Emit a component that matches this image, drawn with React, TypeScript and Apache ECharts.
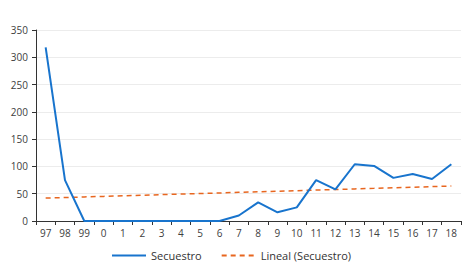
import React, { useEffect, useRef } from "react";
import * as echarts from "echarts";

const categories = ["97", "98", "99", "0", "1", "2", "3", "4", "5", "6", "7", "8", "9", "10", "11", "12", "13", "14", "15", "16", "17", "18"];
const secuestro = [318, 75, 0, 0, 0, 0, 0, 0, 0, 0, 10, 34, 16, 25, 75, 58, 104, 101, 79, 86, 77, 104];
const lineal = [42.0, 43.0, 44.1, 45.1, 46.2, 47.2, 48.3, 49.3, 50.4, 51.4, 52.5, 53.5, 54.6, 55.6, 56.7, 57.7, 58.8, 59.8, 60.9, 61.9, 63.0, 64.0];

export default function App() {
  const ref = useRef<HTMLDivElement>(null);
  useEffect(() => {
    const chart = echarts.init(ref.current!, undefined, { renderer: "svg" });
    const font = "Open Sans";
    chart.setOption({
      animation: false,
      grid: { left: 36, right: 12, top: 30, bottom: 54 },
      legend: {
        bottom: 9,
        left: 106,
        itemWidth: 34,
        itemHeight: 10,
        itemGap: 19,
        itemStyle: { opacity: 0 },
        textStyle: { fontFamily: font, fontSize: 11, color: "#333" },
        data: [
          { name: "Secuestro" },
          { name: "Lineal (Secuestro)" },
        ],
      },
      xAxis: {
        type: "category",
        data: categories,
        boundaryGap: true,
        axisLine: { lineStyle: { color: "#333", width: 1 } },
        axisTick: { show: true, alignWithLabel: false, length: 4, lineStyle: { color: "#333" } },
        axisLabel: { fontFamily: font, fontSize: 10, color: "#404040", margin: 7, interval: 0 },
      },
      yAxis: {
        type: "value",
        min: 0,
        max: 350,
        interval: 50,
        axisLine: { show: true, lineStyle: { color: "#333", width: 1 } },
        axisTick: { show: true, length: 4, lineStyle: { color: "#333" } },
        axisLabel: { fontFamily: font, fontSize: 10, color: "#404040", margin: 8 },
        splitLine: { show: true, lineStyle: { color: "#ececec", width: 1 } },
      },
      series: [
        {
          name: "Secuestro",
          type: "line",
          data: secuestro,
          symbol: "none",
          lineStyle: { color: "#1874cd", width: 2 },
          itemStyle: { color: "#1874cd" },
          z: 3,
        },
        {
          name: "Lineal (Secuestro)",
          type: "line",
          data: lineal,
          symbol: "none",
          lineStyle: { color: "#e8661f", width: 1.5, type: [5, 4] },
          itemStyle: { color: "#e8661f" },
          z: 2,
        },
      ],
    });
    return () => chart.dispose();
  }, []);
  return <div ref={ref} style={{ width: 473, height: 275, position: "absolute", left: 0, top: 0 }} />;
}
